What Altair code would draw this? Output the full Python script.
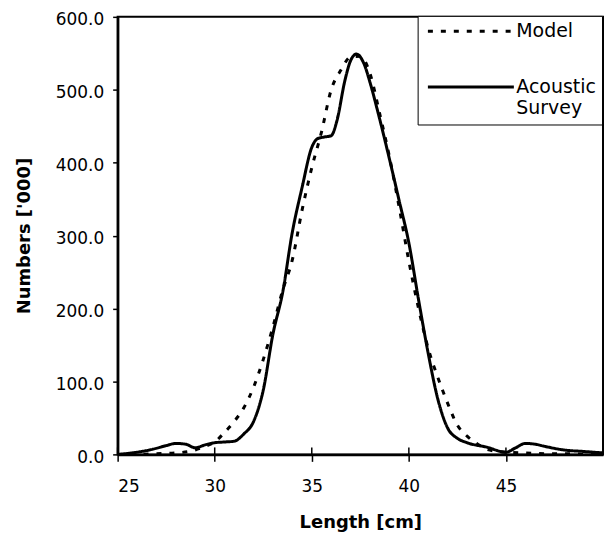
import altair as alt
import pandas as pd

# ---- data ----
series_names = ["Model", "Acoustic Survey"]

model_len = [25, 26, 27, 28, 29, 29.5, 30, 30.5, 31, 31.5, 32, 32.5, 33, 33.5, 34, 34.5,
             35, 35.5, 36, 36.5, 37, 37.5, 38, 38.5, 39, 39.5, 40, 40.5, 41, 41.5, 42,
             42.5, 43, 43.5, 44, 45, 46, 47, 48, 49, 50]
model_num = [0, 0, 1, 2, 6, 11, 17, 30, 45, 64, 92, 130, 175, 225, 267, 335,
             393, 442, 500, 527, 545, 546, 522, 467, 408, 339, 265, 200, 145, 105, 70,
             40, 25, 15, 7, 3, 2, 1, 1, 0, 0]

acoustic_len = [25, 26, 26.8, 27.5, 28, 28.5, 29, 29.5, 30, 30.5, 31, 31.5, 32, 32.5, 33,
                33.5, 34, 34.5, 35, 35.3, 35.6, 36, 36.3, 36.7, 37, 37.3, 37.7, 38, 38.4,
                39, 39.5, 40, 40.5, 41, 41.5, 42, 42.5, 43, 44, 45, 45.5, 46, 46.5, 47,
                48, 49, 50]
acoustic_num = [0, 3, 7, 12, 15, 14, 9, 13, 16, 17, 18, 28, 45, 88, 165,
                222, 305, 366, 421, 433, 435, 437, 458, 512, 540, 549, 535, 510, 470,
                405, 348, 290, 212, 138, 75, 36, 22, 16, 10, 3, 9, 15, 14, 11,
                6, 4, 2]

x_ticks = [25, 30, 35, 40, 45]
y_ticks = [0, 100, 200, 300, 400, 500, 600]

df = pd.concat([
    pd.DataFrame({"len": model_len, "num": model_num, "series": series_names[0]}),
    pd.DataFrame({"len": acoustic_len, "num": acoustic_num, "series": series_names[1]}),
])
ticks_df = pd.DataFrame({"len": x_ticks})

FONT = "DejaVu Sans"
W, H = 487, 439

x_scale = alt.Scale(domain=[25, 50], nice=False, zero=False)
y_scale = alt.Scale(domain=[0, 600], nice=False)

lines = alt.Chart(df).mark_line(
    strokeWidth=3, interpolate="monotone", color="black", clip=True
).encode(
    x=alt.X("len:Q", scale=x_scale,
            axis=alt.Axis(values=x_ticks, title="Length [cm]", format="d",
                          tickSize=7, labelPadding=17, titleY=59)),
    y=alt.Y("num:Q", scale=y_scale,
            axis=alt.Axis(values=y_ticks, title="Numbers ['000]", format=".1f",
                          tickSize=5, labelPadding=9, labelOffset=3, titleX=-84)),
    strokeDash=alt.StrokeDash(
        "series:N",
        scale=alt.Scale(domain=series_names, range=[[5, 8], [1, 0]]),
        legend=alt.Legend(
            title=None, orient="none", legendX=301, legendY=-1,
            strokeColor="black", fillColor="white", padding=6,
            symbolType="M-1,0H15.6", symbolSize=108, symbolStrokeWidth=3,
            symbolStrokeColor="black", symbolFillColor="transparent",
            labelFont=FONT, labelFontSize=19,
            labelColor="black", labelOffset=74, rowPadding=36,
            labelExpr="datum.label == 'Acoustic Survey' ? ['Acoustic', 'Survey'] : datum.label",
        ),
    ),
)

inner_ticks = alt.Chart(ticks_df).mark_rule(color="black", strokeWidth=1.5).encode(
    x=alt.X("len:Q", scale=x_scale),
    y=alt.value(H - 7),
    y2=alt.value(H),
)

chart = alt.layer(lines, inner_ticks).properties(
    width=W, height=H,
    autosize=alt.AutoSizeParams(type="none"),
    padding={"left": 110, "top": 8, "right": 2, "bottom": 77},
).configure_view(
    stroke="black", strokeWidth=2
).configure_axis(
    grid=False, domainColor="black", domainWidth=2.5, tickColor="black", tickWidth=1.5,
    labelFont=FONT, labelFontSize=17, labelColor="black",
    titleFont=FONT, titleFontSize=18, titleFontWeight="bold", titleColor="black",
)

chart.save("out.html", embed_options={"renderer": "svg", "actions": False})
